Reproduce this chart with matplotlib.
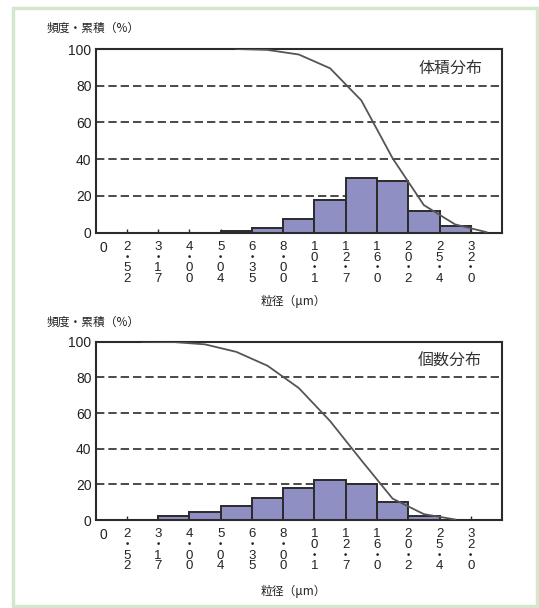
import matplotlib
matplotlib.use("Agg")
import matplotlib.pyplot as plt
from matplotlib.patches import Rectangle

plt.rcParams['font.family'] = ['Liberation Sans', 'Noto Sans CJK JP', 'DejaVu Sans']
JP = ['Noto Sans CJK JP', 'DejaVu Sans']

# bin edges (μm)
edge_labels = ['0', '2.52', '3.17', '4.00', '5.04', '6.35', '8.00', '10.1',
               '12.7', '16.0', '20.2', '25.4', '32.0']

# frequency per bin (%), bin i lies between edge i and edge i+1
volume_freq = [0, 0, 0, 0, 1.1, 2.6, 7.2, 18.0, 29.9, 28.1, 11.7, 3.5, 0]
number_freq = [0, 0, 2.2, 4.3, 7.9, 12.5, 18.1, 22.6, 20.0, 9.9, 2.2, 0, 0]

# cumulative (oversize) curves, given at bin centres starting from first_bin
volume_cum_start = 4
volume_cum = [100, 99.5, 97, 89.5, 72, 40.5, 15, 4.5, 0.3]
number_cum_start = 1
number_cum = [100, 99.8, 98.5, 94.3, 86.5, 74, 55.5, 33.5, 12, 3.3, 0.3]

BAR = '#8f8fc3'
DARK = '#2b2b2b'

fig = plt.figure(figsize=(5.39, 6.08), dpi=100)
fig.patches.append(Rectangle((0.024, 0.004), 0.972, 0.983, transform=fig.transFigure,
                             fill=False, edgecolor='#d4e7cd', linewidth=2.5))


def draw_panel(ax, freq, cum_start, cum, title, title_y):
    nbins = len(freq)
    ax.bar(range(nbins), freq, width=1.0, align='edge', color=BAR,
           edgecolor=DARK, linewidth=1.4, zorder=2)
    xs = [cum_start + i + 0.5 for i in range(len(cum))]
    ax.plot(xs, cum, color='#555555', linewidth=1.3, zorder=3)

    for y in (20, 40, 60, 80):
        ax.axhline(y, color=DARK, linewidth=1.2, linestyle=(0, (5, 2.4)), zorder=1)

    ax.set_xlim(0, nbins)
    ax.set_ylim(0, 100)
    ax.set_yticks([0, 20, 40, 60, 80, 100])
    ax.tick_params(axis='y', length=0, pad=3, labelsize=10, colors='#222222')

    ticks = list(range(1, len(edge_labels)))
    labels = ['\n'.join(s.replace('.', '・')) for s in edge_labels[1:]]
    ax.set_xticks(ticks)
    ax.set_xticklabels(labels, fontsize=9.5, linespacing=0.85, color='#222222')
    ax.tick_params(axis='x', direction='in', length=3, width=1, pad=6, color=DARK)
    ax.text(0.018, -0.045, edge_labels[0], transform=ax.transAxes, ha='center',
            va='top', fontsize=10, color='#222222')

    for s in ax.spines.values():
        s.set_color(DARK)
        s.set_linewidth(1.5)

    ax.text(0.872, title_y, title, transform=ax.transAxes, ha='center', va='center',
            fontsize=11.5, family=JP, color='#333333')


ax1 = fig.add_axes([0.1774, 0.6173, 0.754, 0.3021])
draw_panel(ax1, volume_freq, volume_cum_start, volume_cum, '体積分布', 0.897)

ax2 = fig.add_axes([0.1774, 0.1447, 0.754, 0.2933])
draw_panel(ax2, number_freq, number_cum_start, number_cum, '個数分布', 0.888)

for y in (0.954, 0.4704):
    fig.text(0.0872, y, '頻度・累積（%）', ha='left', va='center', fontsize=8.5,
             family=JP, color='#222222')
for y in (0.5038, 0.0268):
    fig.text(0.5436, y, '粒径（μm）', ha='center', va='center', fontsize=8.5,
             family=JP, color='#222222')

fig.savefig('out.png', dpi=100)
